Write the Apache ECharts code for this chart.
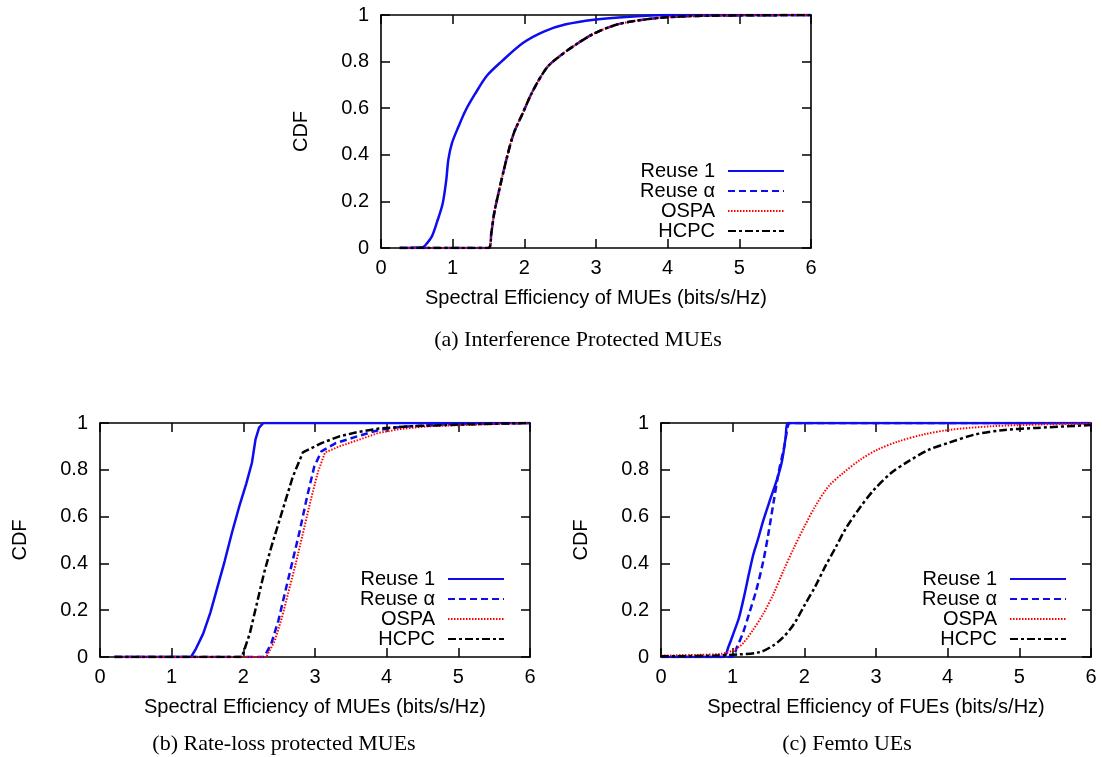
<!DOCTYPE html>
<html>
<head>
<meta charset="utf-8">
<title>CDF of spectral efficiency</title>
<script src="https://cdn.jsdelivr.net/npm/echarts@6/dist/echarts.min.js"></script>
<style>
  html, body { margin: 0; padding: 0; background: #fff; }
  #chart { width: 1102px; height: 757px; }
</style>
</head>
<body>
<div id="chart"></div>
<script>
// ---- series names and axis ticks ----
const seriesNames = ['Reuse 1', 'Reuse \u03b1', 'OSPA', 'HCPC'];
const xTickValues = [0, 1, 2, 3, 4, 5, 6];
const yTickValues = [0, 0.2, 0.4, 0.6, 0.8, 1];

// ---- (a) Interference protected MUEs: [spectral efficiency, CDF] ----
const aReuse1 = [[0.26,0],[0.58,0.003],[0.63,0.016],[0.71,0.05],[0.78,0.11],[0.86,0.19],[0.91,0.29],
  [0.94,0.38],[0.99,0.45],[1.08,0.52],[1.18,0.59],[1.31,0.66],[1.48,0.74],[1.68,0.80],[1.98,0.88],
  [2.28,0.93],[2.58,0.96],[2.97,0.98],[3.47,0.993],[3.97,1.0],[6,1]];
const aReuseAlpha = [[0.26,0],[1.50,0],[1.54,0.066],[1.58,0.15],[1.65,0.25],[1.75,0.38],[1.85,0.49],
  [1.98,0.58],[2.08,0.65],[2.20,0.72],[2.33,0.78],[2.48,0.82],[2.68,0.865],[2.97,0.92],[3.27,0.957],
  [3.57,0.976],[3.97,0.99],[4.57,0.997],[6,1]];
const aOspa = [[0.26,0],[1.50,0],[1.54,0.066],[1.58,0.15],[1.65,0.25],[1.75,0.38],[1.85,0.49],
  [1.98,0.58],[2.08,0.65],[2.20,0.72],[2.33,0.78],[2.48,0.82],[2.68,0.865],[2.97,0.92],[3.27,0.957],
  [3.57,0.976],[3.97,0.99],[4.57,0.997],[6,1]];
const aHcpc = [[0.26,0],[1.50,0],[1.54,0.066],[1.58,0.15],[1.65,0.25],[1.75,0.38],[1.85,0.49],
  [1.98,0.58],[2.08,0.65],[2.20,0.72],[2.33,0.78],[2.48,0.82],[2.68,0.865],[2.97,0.92],[3.27,0.957],
  [3.57,0.976],[3.97,0.99],[4.57,0.997],[6,1]];

// ---- (b) Rate-loss protected MUEs ----
const bReuse1 = [[0.2,0],[1.27,0],[1.34,0.036],[1.44,0.10],[1.54,0.19],[1.64,0.30],[1.74,0.41],
  [1.84,0.53],[1.94,0.64],[2.04,0.74],[2.12,0.83],[2.17,0.93],[2.22,0.98],[2.28,1.0],[6,1]];
const bReuseAlpha = [[0.2,0],[2.29,0],[2.39,0.057],[2.49,0.157],[2.59,0.286],[2.69,0.414],[2.79,0.543],
  [2.89,0.686],[2.99,0.814],[3.09,0.879],[3.29,0.914],[3.59,0.943],[3.88,0.969],[4.18,0.983],
  [4.83,0.994],[6,1]];
const bOspa = [[0.2,0],[2.32,0],[2.44,0.07],[2.54,0.17],[2.64,0.29],[2.74,0.41],[2.84,0.54],[2.94,0.67],
  [3.04,0.79],[3.14,0.874],[3.34,0.9],[3.59,0.926],[3.88,0.957],[4.18,0.974],[4.58,0.986],
  [5.33,0.994],[6,1]];
const bHcpc = [[0.2,0],[1.98,0],[2.09,0.10],[2.19,0.23],[2.29,0.36],[2.39,0.47],[2.49,0.57],[2.59,0.67],
  [2.69,0.77],[2.83,0.874],[3.09,0.914],[3.34,0.943],[3.59,0.961],[3.88,0.976],[4.33,0.986],
  [5.08,0.994],[6,1]];

// ---- (c) Femto UEs ----
const cReuse1 = [[0,0],[0.87,0],[0.94,0.043],[1.01,0.10],[1.09,0.17],[1.16,0.26],[1.23,0.36],[1.29,0.44],
  [1.35,0.50],[1.43,0.586],[1.52,0.67],[1.62,0.76],[1.69,0.84],[1.74,0.94],[1.77,1.0],[6,1]];
const cReuseAlpha = [[0,0],[0.99,0],[1.06,0.043],[1.14,0.10],[1.23,0.186],[1.33,0.286],[1.43,0.414],
  [1.50,0.53],[1.57,0.66],[1.64,0.786],[1.72,0.90],[1.77,0.986],[1.80,1.0],[6,1]];
const cOspa = [[0,0.006],[0.51,0.009],[0.85,0.014],[1.01,0.029],[1.14,0.057],[1.28,0.114],[1.43,0.186],
  [1.57,0.27],[1.71,0.37],[1.86,0.47],[2.00,0.557],[2.15,0.643],[2.34,0.73],[2.54,0.786],[2.78,0.843],
  [3.02,0.886],[3.31,0.921],[3.65,0.95],[4.03,0.971],[4.61,0.986],[5.34,0.994],[6,0.997]];
const cHcpc = [[0,0.003],[0.75,0.006],[1.09,0.011],[1.38,0.021],[1.57,0.05],[1.71,0.086],[1.86,0.143],
  [2.00,0.22],[2.15,0.30],[2.29,0.386],[2.44,0.47],[2.58,0.55],[2.78,0.64],[2.97,0.714],[3.21,0.786],
  [3.45,0.836],[3.74,0.886],[4.03,0.917],[4.37,0.95],[4.76,0.969],[5.24,0.979],[6,0.991]];

const panelData = [
  [aReuse1, aReuseAlpha, aOspa, aHcpc],
  [bReuse1, bReuseAlpha, bOspa, bHcpc],
  [cReuse1, cReuseAlpha, cOspa, cHcpc]
];
// panel (b) has sharp knees, the others are drawn as smooth curves
const panelSmooth = [0.3, 0, 0.3];
const xTitles = [
  'Spectral Efficiency of MUEs (bits/s/Hz)',
  'Spectral Efficiency of MUEs (bits/s/Hz)',
  'Spectral Efficiency of FUEs (bits/s/Hz)'
];
const captions = [
  '(a) Interference Protected MUEs',
  '(b) Rate-loss protected MUEs',
  '(c) Femto UEs'
];

// ---- styling ----
const SANS = '"Liberation Sans", Arial, Helvetica, sans-serif';
const SERIF = '"Liberation Serif", "Times New Roman", serif';
const FS = 20;
const BLUE = '#0d0df0';
const lineStyles = [
  { color: BLUE, width: 2.5, type: 'solid' },
  { color: BLUE, width: 2.5, type: [7, 4] },
  { color: '#ff0000', width: 2, type: [1.5, 1.5] },
  { color: '#000000', width: 2.5, type: [8, 3, 3, 3] }
];

// plot-area boxes in page pixels
const grids = [
  { left: 381, top: 15, width: 430, height: 233 },
  { left: 100, top: 423, width: 430, height: 234 },
  { left: 661, top: 423, width: 430, height: 234 }
];
const legendPos = [
  { right: 317, top: 161 },
  { right: 597, top: 569 },
  { right: 35, top: 569 }
];
const captionPos = [
  { x: 578, y: 340 },
  { x: 284, y: 744 },
  { x: 847, y: 744 }
];

function tickStyle() {
  return { show: true, inside: true, length: 9, lineStyle: { color: '#000', width: 1.5 } };
}
function axisLineStyle() {
  return { show: true, onZero: false, lineStyle: { color: '#000', width: 1.6 } };
}

const xAxes = [], yAxes = [], series = [], legends = [], graphics = [];

grids.forEach((g, gi) => {
  // bottom x axis with labels, top mirror with ticks only
  xAxes.push({
    type: 'value', gridIndex: gi, position: 'bottom', min: 0, max: 6, interval: 1,
    axisLine: axisLineStyle(), axisTick: tickStyle(), splitLine: { show: false },
    axisLabel: { show: true, margin: 10, color: '#000', fontFamily: SANS, fontSize: FS,
      formatter: v => xTickValues.includes(v) ? String(v) : '' },
    name: xTitles[gi], nameLocation: 'middle', nameGap: 40,
    nameTextStyle: { color: '#000', fontFamily: SANS, fontSize: FS }
  });
  xAxes.push({
    type: 'value', gridIndex: gi, position: 'top', min: 0, max: 6, interval: 1,
    axisLine: axisLineStyle(), axisTick: tickStyle(), splitLine: { show: false },
    axisLabel: { show: false }
  });
  // left y axis with labels, right mirror with ticks only
  yAxes.push({
    type: 'value', gridIndex: gi, position: 'left', min: 0, max: 1, interval: 0.2,
    axisLine: axisLineStyle(), axisTick: tickStyle(), splitLine: { show: false },
    axisLabel: { show: true, margin: 12, color: '#000', fontFamily: SANS, fontSize: FS,
      formatter: v => {
        const t = yTickValues.find(y => Math.abs(y - v) < 1e-9);
        return t === undefined ? '' : String(t);
      } },
    name: 'CDF', nameLocation: 'middle', nameGap: 70, nameRotate: 90,
    nameTextStyle: { color: '#000', fontFamily: SANS, fontSize: FS }
  });
  yAxes.push({
    type: 'value', gridIndex: gi, position: 'right', min: 0, max: 1, interval: 0.2,
    axisLine: axisLineStyle(), axisTick: tickStyle(), splitLine: { show: false },
    axisLabel: { show: false }
  });

  panelData[gi].forEach((data, si) => {
    series.push({
      type: 'line', name: seriesNames[si], data: data,
      xAxisIndex: gi * 2, yAxisIndex: gi * 2,
      showSymbol: false, symbol: 'none', smooth: panelSmooth[gi],
      lineStyle: lineStyles[si], itemStyle: { color: lineStyles[si].color },
      z: 2 + si, silent: true, emphasis: { disabled: true }
    });
  });

  legends.push({
    orient: 'vertical', align: 'right', right: legendPos[gi].right, top: legendPos[gi].top,
    padding: 0, itemGap: 0, itemWidth: 56, itemHeight: 14,
    data: seriesNames, selectedMode: false,
    itemStyle: { opacity: 0 },
    textStyle: { color: '#000', fontFamily: SANS, fontSize: FS, lineHeight: 20, padding: [0, 8, 0, 0] }
  });

  graphics.push({
    type: 'text', x: captionPos[gi].x, y: captionPos[gi].y,
    style: { text: captions[gi], fill: '#000', font: '22px ' + SERIF,
      textAlign: 'center', textVerticalAlign: 'middle' }
  });
});

const chart = echarts.init(document.getElementById('chart'), null, { renderer: 'canvas' });
chart.setOption({
  animation: false,
  backgroundColor: '#fff',
  grid: grids.map(g => Object.assign({ show: false, containLabel: false }, g)),
  xAxis: xAxes,
  yAxis: yAxes,
  legend: legends,
  series: series,
  graphic: graphics
});
</script>
</body>
</html>
